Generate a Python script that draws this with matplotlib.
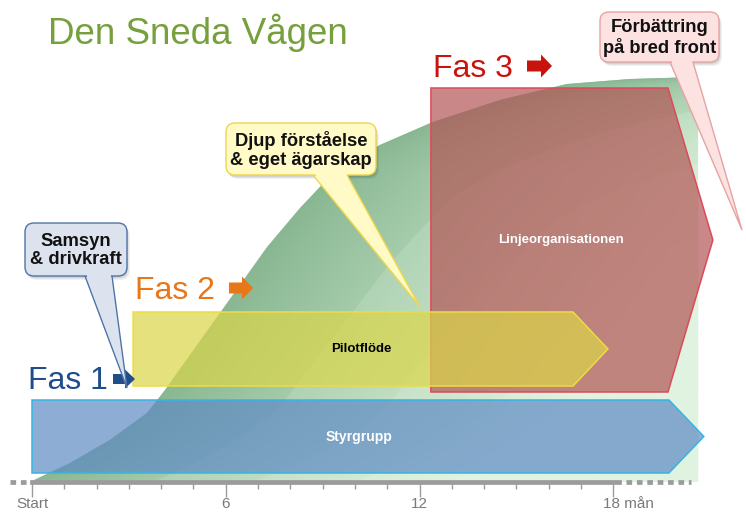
import matplotlib
matplotlib.use("Agg")
import numpy as np
import matplotlib.pyplot as plt
from matplotlib.patches import Polygon, FancyBboxPatch, FancyArrow
from matplotlib.transforms import Affine2D, ScaledTranslation
from matplotlib.colors import to_rgba, to_rgb

plt.rcParams['font.family'] = ['Liberation Sans', 'DejaVu Sans']

# ---------------- data ----------------
title = "Den Sneda Vågen"
tick_months = [0, 6, 12, 18]
tick_labels = ["Start", "6", "12", "18 mån"]
minor_months = list(range(0, 19))

# the "sneda vågen" curve (months, level)
wave_month = [0.0, 1.18, 2.41, 3.56, 4.12, 4.89, 5.51, 6.44, 7.28, 8.30,
              9.32, 10.77, 12.41, 14.49, 16.56, 18.51, 20.62]
wave_level = [1, 19, 42, 69, 92, 127, 155, 197, 235, 274,
              309, 337, 360, 382, 398, 403, 405]

bar_names = ["Styrgrupp", "Pilotflöde", "Linjeorganisationen"]
bar_start = [0.0, 3.13, 12.35]
bar_end = [19.72, 16.75, 19.69]

phase_names = ["Fas 1", "Fas 2", "Fas 3"]
callout_texts = ["Samsyn\n& drivkraft", "Djup förståelse\n& eget ägarskap",
                 "Förbättring\npå bred front"]

# ---------------- layout / style ----------------
W, H = 746, 515
PXM = 32.3          # pixels per month
X0 = -32 / PXM
fig = plt.figure(figsize=(W / 100, H / 100), dpi=100)
fig.patch.set_facecolor('white')
ax = fig.add_axes([0, 0, 1, 1])
ax.patch.set_visible(False)

# pixel transform (image coords, origin top-left) for annotations
T = Affine2D().scale(1 / W, -1 / H).translate(0, 1) + fig.transFigure

# ---- green wave (shaded: darker along the curve edge, lighter away from it) ----
top = max(wave_level)
right = wave_month[-1]
verts = list(zip(wave_month, wave_level)) + [(right, 0), (wave_month[0], 0)]
base = Polygon(verts, closed=True, fc='#a9d0aa', ec='none', zorder=1)
ax.add_patch(base)

gx = np.linspace(0, right, 420)
gy = np.linspace(0, top, 320)
GX, GY = np.meshgrid(gx, gy)
edge_m = np.interp(GY, wave_level, wave_month)
t = np.clip((GX - edge_m) / 13.0, 0, 1) ** 0.9
dark = np.array(to_rgb('#89b792'))
light = np.array(to_rgb('#d6f0d6'))
img = dark[None, None, :] * (1 - t[..., None]) + light[None, None, :] * t[..., None]
im = ax.imshow(img, extent=(0, right, 0, top), origin='lower', aspect='auto',
               interpolation='bilinear', zorder=1.05)
im.set_clip_path(base)
ax.set_xlim(X0, X0 + W / PXM)
ax.set_ylim(-33, 482)

for s, f, a in [(3.8, 0.93, 0.16), (6.9, 0.85, 0.16), (10.0, 0.74, 0.16)]:
    pts = [(m + s, l * f) for m, l in zip(wave_month, wave_level)]
    pts += [(40, top * f), (40, -10), (s, -10)]
    ov = Polygon(pts, closed=True, fc='#f0fbf0', alpha=a, ec='none', zorder=1.1)
    ax.add_patch(ov)
    ov.set_clip_path(base)

# ---- bars ----
bar_bottom = [9, 96, 90]
bar_height = [73, 74, 304]
tip_len = [1.08, 1.08, 1.39]
bar_fc = ['#5e8ac4', '#dbd648', '#b25555']
bar_ec = ['#38b4e4', '#eedc40', '#dc4a5a']
bar_z = [4, 3.5, 3]
bar_tc = ['white', 'black', 'white']
bar_fs = [10, 9.5, 9.5]
for i in range(3):
    s, e, b, h, tl = bar_start[i], bar_end[i], bar_bottom[i], bar_height[i], tip_len[i]
    poly = [(s, b), (e, b), (e + tl, b + h / 2), (e, b + h), (s, b + h)]
    ax.add_patch(Polygon(poly, closed=True, fc=to_rgba(bar_fc[i], 0.7),
                         ec=bar_ec[i], lw=1.1, zorder=bar_z[i]))
    cx = (s + (e + e + tl) / 2) / 2
    ax.text(cx, b + h / 2, bar_names[i], ha='center', va='center',
            fontsize=bar_fs[i], fontweight='bold', color=bar_tc[i], zorder=10)

# ---- title ----
ax.text(48, 44, title, transform=T, fontsize=26.5, color='#76a03c',
        ha='left', va='baseline', zorder=10)

# ---- phase labels with block arrows ----
phase_pos = [(28, 389), (135, 299), (433, 77)]
phase_col = ['#1f4e8a', '#e8771a', '#c8140c']
phase_arrow = [(113, 135, 379, 10, 19, 10), (229, 253, 288, 11, 23, 11),
               (527, 552, 66, 11, 23, 11)]
for i in range(3):
    px, py = phase_pos[i]
    ax.text(px, py, phase_names[i], transform=T, fontsize=23, color=phase_col[i],
            ha='left', va='baseline', zorder=10)
    x0, x1, yc, bw, hw, hl = phase_arrow[i]
    ax.add_patch(FancyArrow(x0, yc, x1 - x0, 0, width=bw, head_width=hw,
                            head_length=hl, length_includes_head=True,
                            fc=phase_col[i], ec='none', transform=T, zorder=9))

# ---- callouts ----
callout_box = [(25, 223, 127, 276), (226, 123, 376, 175), (600, 12, 719, 62)]
callout_base = [(85, 112), (313, 347), (670, 693)]
callout_tip = [(127, 388), (420, 307), (742, 230)]
callout_fc = ['#dde3ee', '#fffac6', '#fde2e2']
callout_ec = ['#4f74a8', '#efd64c', '#e6a3a3']
for i in range(3):
    x0, y0, x1, y1 = callout_box[i]
    b0, b1 = callout_base[i]
    tx, ty = callout_tip[i]
    fc, ec = callout_fc[i], callout_ec[i]
    # shadow
    for k, al in [(4, 0.05), (3, 0.06), (2, 0.07)]:
        ax.add_patch(FancyBboxPatch((x0 + k - 1, y0 + k), x1 - x0, y1 - y0,
                                    boxstyle='round,pad=0,rounding_size=9',
                                    fc='#000000', alpha=al, ec='none',
                                    transform=T, zorder=11))
    ax.add_patch(Polygon([(b0, y1), (tx, ty), (b1, y1)], closed=True, fc=fc,
                         ec=ec, lw=1.0, transform=T, zorder=12))
    ax.add_patch(FancyBboxPatch((x0, y0), x1 - x0, y1 - y0,
                                boxstyle='round,pad=0,rounding_size=9',
                                fc=fc, ec=ec, lw=1.0, transform=T, zorder=13))
    tt = 6.0 / (ty - y1)
    p0 = (b0 + tt * (tx - b0) + 1.3, y1 + 6)
    p1 = (b1 + tt * (tx - b1) - 1.3, y1 + 6)
    ax.add_patch(Polygon([(b0 + 1.3, y1 - 2.5), (b1 - 1.3, y1 - 2.5), p1, p0],
                         closed=True, fc=fc, ec='none', transform=T, zorder=14))
    ax.text((x0 + x1) / 2, (y0 + y1) / 2 + 1, callout_texts[i], transform=T,
            ha='center', va='center', fontsize=13.2, fontweight='bold',
            color='#111111', linespacing=1.1, zorder=15)

# ---- time axis ----
for sp in ['top', 'left', 'right']:
    ax.spines[sp].set_visible(False)
axc = '#9b9b9b'
ax.spines['bottom'].set_position(('data', 0))
ax.spines['bottom'].set_bounds(0, 18.17)
ax.spines['bottom'].set_linewidth(3.4)
ax.spines['bottom'].set_color(axc)
ax.spines['bottom'].set_zorder(5)
ax.set_yticks([])
ax.set_xticks(tick_months, tick_labels)
ax.set_xticks(minor_months, minor=True)
ax.tick_params(axis='x', which='major', length=10.5, width=1, color=axc,
               direction='out', pad=0.3, labelsize=11, labelcolor='#7a7a7a')
ax.tick_params(axis='x', which='minor', length=5, width=1, color=axc,
               direction='out')
lab = ax.get_xticklabels()[-1]
lab.set_ha('left')
lab.set_transform(lab.get_transform() + ScaledTranslation(-0.10, 0, fig.dpi_scale_trans))
ax.plot([18.4, 20.4], [0, 0], ls=(0, (1.2, 1.0)), lw=3.4, color=axc,
        solid_capstyle='butt', zorder=5, clip_on=False)
ax.plot([-0.68, -0.12], [0, 0], ls=(0, (1.2, 1.0)), lw=3.4, color=axc,
        zorder=5, clip_on=False)

fig.savefig("out.png", dpi=100)
